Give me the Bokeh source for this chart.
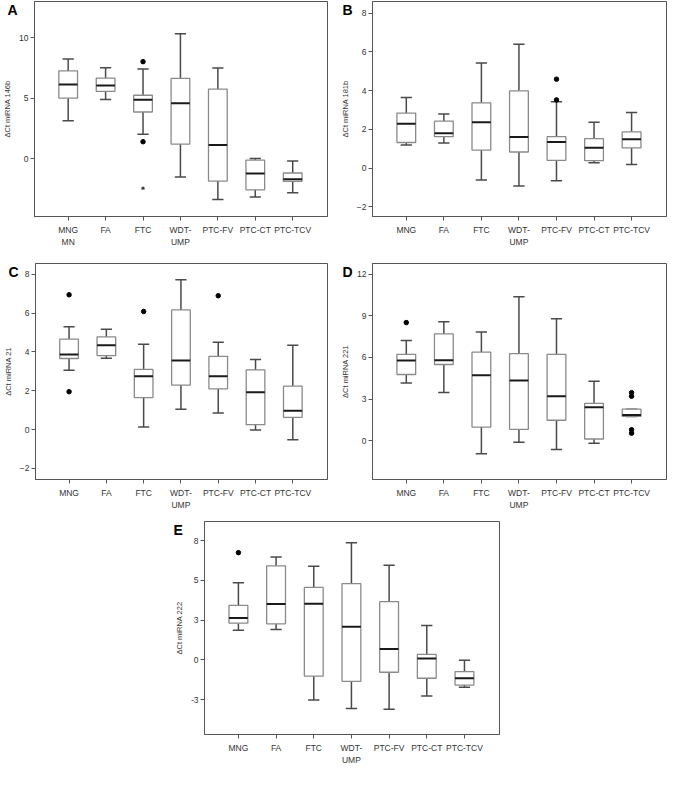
from bokeh.plotting import figure
from bokeh.layouts import row, column
from bokeh.models import FixedTicker, Title, Spacer, Range1d, ColumnDataSource
from bokeh.embed import file_html
from bokeh.resources import INLINE

# ---------------- data ----------------
categories = ["MNG", "FA", "FTC", "WDT-UMP", "PTC-FV", "PTC-CT", "PTC-TCV"]
tick_labels_a = ["MNG\nMN", "FA", "FTC", "WDT-\nUMP", "PTC-FV", "PTC-CT", "PTC-TCV"]
tick_labels = ["MNG", "FA", "FTC", "WDT-\nUMP", "PTC-FV", "PTC-CT", "PTC-TCV"]

# A: miRNA 146b
a_low = [3.13, 4.89, 2.00, -1.52, -3.40, -3.18, -2.83]
a_q1 = [5.00, 5.56, 3.85, 1.20, -1.87, -2.59, -1.90]
a_median = [6.12, 6.04, 4.87, 4.57, 1.12, -1.23, -1.71]
a_q3 = [7.25, 6.66, 5.24, 6.63, 5.75, -0.13, -1.20]
a_high = [8.24, 7.51, 7.41, 10.32, 7.49, 0.00, -0.21]
a_out_cat = ["FTC", "FTC"]
a_out_val = [8.02, 1.39]
a_ext_cat = ["FTC"]
a_ext_val = [-2.46]
a_ticks = [0, 5, 10]

# B: miRNA 181b
b_low = [1.19, 1.30, -0.62, -0.92, -0.65, 0.27, 0.18]
b_q1 = [1.32, 1.62, 0.93, 0.83, 0.40, 0.38, 1.04]
b_median = [2.29, 1.80, 2.37, 1.60, 1.34, 1.05, 1.49]
b_q3 = [2.84, 2.42, 3.37, 3.99, 1.62, 1.52, 1.87]
b_high = [3.64, 2.79, 5.43, 6.39, 3.42, 2.37, 2.87]
b_out_cat = ["PTC-FV", "PTC-FV"]
b_out_val = [4.59, 3.52]
b_ticks = [-2, 0, 2, 4, 6, 8]

# C: miRNA 21
c_low = [3.06, 3.67, 0.13, 1.05, 0.85, -0.02, -0.53]
c_q1 = [3.66, 3.81, 1.65, 2.29, 2.10, 0.25, 0.63]
c_median = [3.87, 4.34, 2.75, 3.56, 2.74, 1.92, 0.97]
c_q3 = [4.66, 4.77, 3.10, 6.16, 3.77, 3.07, 2.24]
c_high = [5.29, 5.16, 4.39, 7.71, 4.49, 3.61, 4.34]
c_out_cat = ["MNG", "MNG", "FTC", "PTC-FV"]
c_out_val = [6.94, 1.95, 6.08, 6.89]
c_ticks = [-2, 0, 2, 4, 6, 8]

# D: miRNA 221
d_low = [4.16, 3.48, -0.94, -0.12, -0.63, -0.19, 1.75]
d_q1 = [4.77, 5.49, 0.98, 0.82, 1.47, 0.12, 1.75]
d_median = [5.78, 5.80, 4.72, 4.33, 3.20, 2.41, 1.85]
d_q3 = [6.22, 7.69, 6.38, 6.27, 6.22, 2.69, 2.27]
d_high = [7.22, 8.58, 7.83, 10.38, 8.79, 4.28, 2.27]
d_out_cat = ["MNG", "PTC-TCV", "PTC-TCV", "PTC-TCV", "PTC-TCV"]
d_out_val = [8.51, 3.46, 3.20, 0.79, 0.54]
d_ticks = [0, 3, 6, 9, 12]

# E: miRNA 222
e_low = [1.87, 1.91, -2.53, -3.07, -3.11, -2.27, -1.73]
e_q1 = [2.31, 2.27, -1.02, -1.35, -0.78, -1.16, -1.59]
e_median = [2.63, 3.51, 3.53, 2.09, 0.68, 0.08, -1.16]
e_q3 = [3.43, 5.92, 4.56, 4.80, 3.67, 0.34, -0.74]
e_high = [4.86, 6.47, 5.90, 7.37, 5.96, 2.17, -0.02]
e_out_cat = ["MNG"]
e_out_val = [6.75]
e_ticks = [-2.5, 0, 2.5, 5, 7.5]
e_tick_labels = ["-3", "0", "3", "5", "8"]

# ---------------- styling ----------------
S = 0.975
FONT = "Liberation Sans"
BOX_COLOR = "#8a8a8a"
WHISK_COLOR = "#4a4a4a"
FRAME_COLOR = "#555555"
X0, X1 = -0.9, 6.93


def sc(v):
    return int(round(v * S))


def make_panel(letter, letter_dx, ylabel, low, q1, med, q3, high, out_cat, out_val,
               yrange, yticks, xlabels, geom, ytick_labels=None,
               ext_cat=None, ext_val=None):
    W, H, L, R, T, B = geom
    p = figure(width=sc(W), height=sc(H), output_backend="svg",
               toolbar_location=None, x_range=Range1d(X0, X1),
               y_range=Range1d(*yrange))
    p.min_border_left = sc(L)
    p.min_border_right = sc(R)
    p.min_border_top = sc(T)
    p.min_border_bottom = sc(B)
    p.xgrid.visible = False
    p.ygrid.visible = False
    p.outline_line_color = FRAME_COLOR
    p.outline_line_width = 1
    p.background_fill_color = "white"
    p.border_fill_color = "white"

    xs = [categories.index(c) for c in categories]
    src = ColumnDataSource(dict(x=xs, low=low, q1=q1, med=med, q3=q3, high=high))
    # whiskers
    p.segment(x0="x", y0="q3", x1="x", y1="high", source=src,
              line_color=WHISK_COLOR, line_width=1.5)
    p.segment(x0="x", y0="q1", x1="x", y1="low", source=src,
              line_color=WHISK_COLOR, line_width=1.5)
    cap = 0.15
    src_caps = ColumnDataSource(dict(x0=[x - cap for x in xs], x1=[x + cap for x in xs],
                                     low=low, high=high))
    p.segment(x0="x0", y0="high", x1="x1", y1="high", source=src_caps,
              line_color=WHISK_COLOR, line_width=1.5)
    p.segment(x0="x0", y0="low", x1="x1", y1="low", source=src_caps,
              line_color=WHISK_COLOR, line_width=1.5)
    # boxes
    p.vbar(x="x", width=0.5, bottom="q1", top="q3", source=src,
           fill_color="white", line_color=BOX_COLOR, line_width=1.3)
    half = 0.25
    src_med = ColumnDataSource(dict(x0=[x - half for x in xs], x1=[x + half for x in xs], med=med))
    p.segment(x0="x0", y0="med", x1="x1", y1="med", source=src_med,
              line_color="#1a1a1a", line_width=2)
    # outliers
    if out_cat:
        p.scatter(x=[categories.index(c) for c in out_cat], y=out_val,
                  size=4.5, color="black")
    if ext_cat:
        p.scatter(x=[categories.index(c) for c in ext_cat], y=ext_val,
                  marker="asterisk", size=3.5, line_color="#333333", line_width=1)

    # axes
    p.xaxis.ticker = FixedTicker(ticks=xs)
    p.xaxis.major_label_overrides = {i: lab for i, lab in enumerate(xlabels)}
    p.yaxis.ticker = FixedTicker(ticks=yticks)
    if ytick_labels is not None:
        p.yaxis.major_label_overrides = {t: lab for t, lab in zip(yticks, ytick_labels)}
    for ax in (p.xaxis[0], p.yaxis[0]):
        ax.axis_line_color = FRAME_COLOR
        ax.major_tick_line_color = FRAME_COLOR
        ax.major_tick_out = 4
        ax.major_tick_in = 0
        ax.minor_tick_line_color = None
        ax.major_label_text_font = FONT
        ax.major_label_text_font_size = "8.5px"
        ax.major_label_text_color = "#333333"
        ax.major_label_standoff = 4
    p.yaxis.axis_label = ylabel
    p.yaxis.axis_label_text_font = FONT
    p.yaxis.axis_label_text_font_size = "7.5px"
    p.yaxis.axis_label_text_font_style = "normal"
    p.yaxis.axis_label_text_color = "#333333"
    p.yaxis.axis_label_standoff = 4
    p.yaxis.major_label_standoff = 2

    # panel letter: a title pulled down beside the top-left corner of the frame
    p.add_layout(Title(text=letter, align="left", offset=-sc(letter_dx),
                       standoff=-33, vertical_align="bottom",
                       text_font=FONT, text_font_style="bold",
                       text_font_size="14px", text_color="black"), "above")
    return p


pA = make_panel("A", 28, "\u0394Ct miRNA 146b", a_low, a_q1, a_median, a_q3, a_high,
                a_out_cat, a_out_val, (-4.8, 13.0), a_ticks, tick_labels_a,
                (340, 265, 28, 5, 1, 43), ext_cat=a_ext_cat, ext_val=a_ext_val)
pB = make_panel("B", 31, "\u0394Ct miRNA 181b", b_low, b_q1, b_median, b_q3, b_high,
                b_out_cat, b_out_val, (-2.5, 8.6), b_ticks, tick_labels,
                (345, 265, 41, 2, 1, 43))
pC = make_panel("C", 28, "\u0394Ct miRNA 21", c_low, c_q1, c_median, c_q3, c_high,
                c_out_cat, c_out_val, (-2.57, 8.55), c_ticks, tick_labels,
                (340, 265, 28, 5, 5, 38))
pD = make_panel("D", 31, "\u0394Ct miRNA 221", d_low, d_q1, d_median, d_q3, d_high,
                d_out_cat, d_out_val, (-2.8, 12.77), d_ticks, tick_labels,
                (345, 265, 41, 2, 5, 38))
pE = make_panel("E", 32, "\u0394Ct miRNA 222", e_low, e_q1, e_median, e_q3, e_high,
                e_out_cat, e_out_val, (-4.7, 8.71), e_ticks, tick_labels,
                (360, 257, 49, 8, 5, 29), ytick_labels=e_tick_labels)

layout = column(row(pA, pB), row(pC, pD),
                row(Spacer(width=sc(160), height=sc(257)), pE))

open("out.html", "w").write(file_html(layout, INLINE))
